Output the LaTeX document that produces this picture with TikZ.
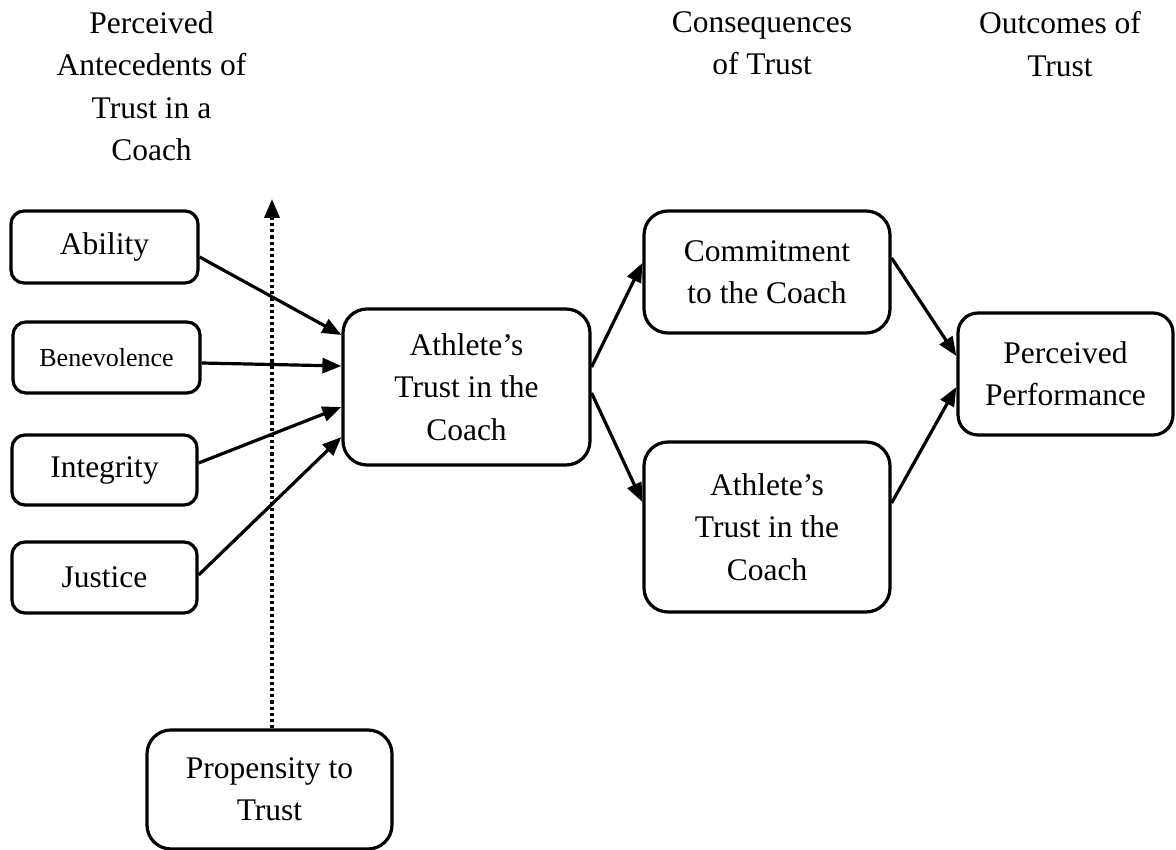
\documentclass[tikz,border=0pt]{standalone}
\usepackage{fontspec}
\setmainfont{Liberation Serif}
\usetikzlibrary{arrows.meta}
\begin{document}
\begin{tikzpicture}[x=1pt,y=-1pt,
  txt/.style={font=\fontsize{31.5}{42.3}\selectfont, align=center, inner sep=0pt},
  smallbox/.style={draw, line width=3.2pt, rounded corners=13pt, inner sep=0pt, align=center,
    font=\fontsize{31.5}{42.3}\selectfont},
  bigbox/.style={draw, line width=3.2pt, rounded corners=24pt, inner sep=0pt, align=center,
    font=\fontsize{31.5}{42.3}\selectfont},
  link/.style={line width=3.2pt, -{Triangle[length=19pt,width=15pt]}},
  dotlink/.style={line width=3.4pt, dash pattern=on 3.2pt off 3pt, -{Triangle[length=19pt,width=15pt]}}
]
\useasboundingbox (0,0) rectangle (1176,850);

% headers
\node[txt, anchor=north] (h1) at (151.5,11.5) {Perceived\\Antecedents of\\Trust in a\\Coach};
\node[txt, anchor=north] (h2) at (762,11.5) {Consequences\\of Trust};
\node[txt, anchor=north] (h3) at (1060,11.5) {Outcomes of\\Trust};

% left boxes
\node[smallbox, minimum width=187pt, minimum height=72pt] (ability) at (104.5,247) {Ability};
\node[smallbox, minimum width=187pt, minimum height=71pt, font=\fontsize{26}{32}\selectfont] (benev) at (106.5,357.5) {Benevolence};
\node[smallbox, minimum width=185pt, minimum height=70pt] (integ) at (104.5,470) {Integrity};
\node[smallbox, minimum width=185pt, minimum height=71pt] (justice) at (104.5,577.5) {Justice};

% centre
\node[bigbox, minimum width=247pt, minimum height=156pt] (trust) at (466.5,387) {Athlete’s\\Trust in the\\Coach};
\node[bigbox, minimum width=246pt, minimum height=122pt] (commit) at (767,272) {Commitment\\to the Coach};
\node[bigbox, minimum width=246pt, minimum height=170pt] (trust2) at (767,527) {Athlete’s\\Trust in the\\Coach};
\node[bigbox, rounded corners=20pt, minimum width=215pt, minimum height=122pt] (perf) at (1065.5,374) {Perceived\\Performance};
\node[bigbox, minimum width=245pt, minimum height=119pt] (prop) at (269.5,789.5) {Propensity to\\Trust};

\coordinate (dottop) at (272,199);

% connectors
\draw[dotlink] ([xshift=2.5pt]prop.north) -- (dottop);
\draw[link] ([yshift=-10pt]ability.east) -- ([yshift=52pt]trust.west);
\draw[link] ([yshift=-5.5pt]benev.east) -- ([yshift=21pt]trust.west);
\draw[link] ([yshift=7pt]integ.east) -- ([yshift=-20pt]trust.west);
\draw[link] ([yshift=2.5pt]justice.east) -- ([yshift=-50pt]trust.west);
\draw[link] ([yshift=20pt]trust.east) -- ([yshift=9pt]commit.west);
\draw[link] ([yshift=-6pt]trust.east) -- ([yshift=25pt]trust2.west);
\draw[link] ([yshift=14pt]commit.east) -- ([yshift=18pt]perf.west);
\draw[link] ([yshift=24pt]trust2.east) -- ([yshift=-13pt]perf.west);
\end{tikzpicture}
\end{document}
